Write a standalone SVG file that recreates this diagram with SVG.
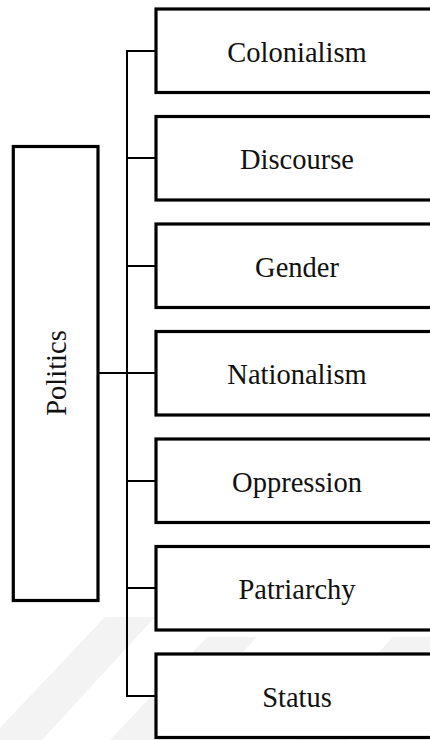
<svg xmlns="http://www.w3.org/2000/svg" width="430" height="740" viewBox="0 0 430 740">
<style>
.box{fill:#fff;stroke:#000;stroke-width:3.2}
.lbl{font-family:"Liberation Serif","Times New Roman",serif;font-size:28.5px;fill:#111;text-anchor:middle}
.con{stroke:#000;stroke-width:2;fill:none}
.wm{fill:#f3f3f3}
</style>
<rect width="430" height="740" fill="#fff"/>
<g id="watermark">
<polygon class="wm" points="105,617 155,617 42,740 0,740 0,728"/>
<polygon class="wm" points="207,637 257,637 160,740 110,740"/>
<polygon class="wm" points="393,637 443,637 346,740 296,740"/>
</g>
<g id="connectors">
<line class="con" x1="127" y1="50" x2="127" y2="697"/>
<line class="con" x1="98" y1="373" x2="127" y2="373" stroke-width="3"/>
<line class="con" x1="126" y1="51" x2="156" y2="51"/>
<line class="con" x1="127" y1="158" x2="156" y2="158"/>
<line class="con" x1="127" y1="266" x2="156" y2="266"/>
<line class="con" x1="127" y1="373" x2="156" y2="373"/>
<line class="con" x1="127" y1="481" x2="156" y2="481"/>
<line class="con" x1="127" y1="588" x2="156" y2="588"/>
<line class="con" x1="126" y1="696" x2="156" y2="696"/>
</g>
<g id="politics">
<rect class="box" x="13.3" y="146.5" width="84.7" height="454"/>
<text class="lbl" transform="translate(66,373) rotate(-90)">Politics</text>
</g>
<g id="colonialism">
<rect class="box" x="156" y="9" width="300" height="83.5"/>
<text class="lbl" x="297" y="61.5">Colonialism</text>
</g>
<g id="discourse">
<rect class="box" x="156" y="116.5" width="300" height="83.5"/>
<text class="lbl" x="297" y="169">Discourse</text>
</g>
<g id="gender">
<rect class="box" x="156" y="224" width="300" height="83.5"/>
<text class="lbl" x="297" y="276.5">Gender</text>
</g>
<g id="nationalism">
<rect class="box" x="156" y="331.5" width="300" height="83.5"/>
<text class="lbl" x="297" y="384">Nationalism</text>
</g>
<g id="oppression">
<rect class="box" x="156" y="439" width="300" height="83.5"/>
<text class="lbl" x="297" y="491.5">Oppression</text>
</g>
<g id="patriarchy">
<rect class="box" x="156" y="546.5" width="300" height="83.5"/>
<text class="lbl" x="297" y="599">Patriarchy</text>
</g>
<g id="status">
<rect class="box" x="156" y="654" width="300" height="83.5"/>
<text class="lbl" x="297" y="706.5">Status</text>
</g>
</svg>
